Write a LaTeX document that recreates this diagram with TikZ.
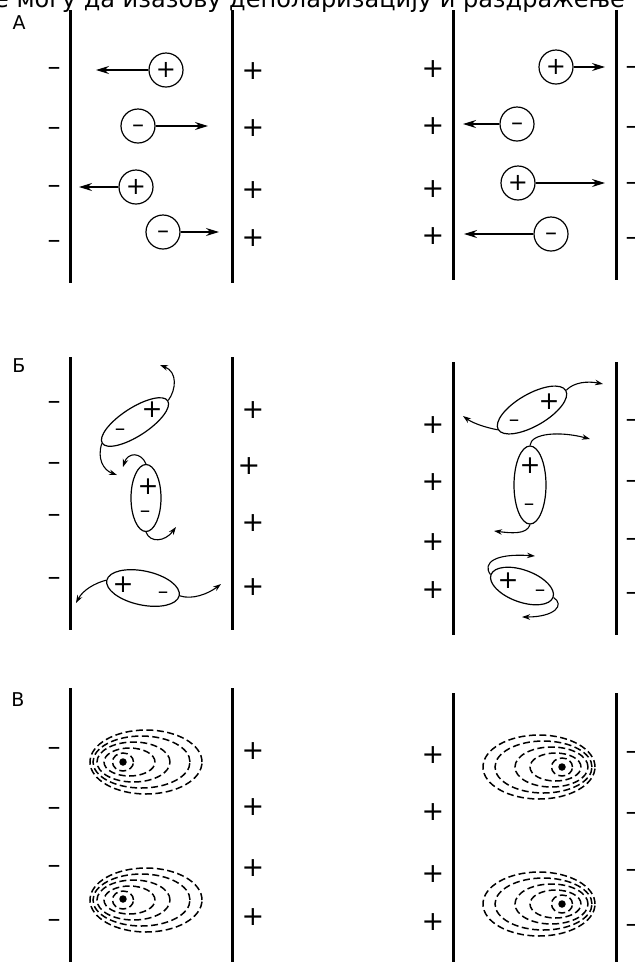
\documentclass[tikz,border=0pt]{standalone}
\usepackage{fontspec}
\setmainfont{DejaVu Sans}
\usetikzlibrary{arrows.meta,shapes.geometric}
\begin{document}
\begin{tikzpicture}[x=1pt,y=-1pt,
  membrane/.style={line width=3pt},
  tag/.style={inner sep=0pt,font=\fontsize{19}{19}\selectfont},
  head/.style={inner sep=0pt,anchor=base west,font=\fontsize{24}{24}\selectfont},
  plussign/.style={inner sep=0pt,font=\fontsize{27}{27}\selectfont},
  minussign/.style={inner sep=0pt,font=\fontsize{26}{26}\selectfont,yshift=-3.5pt},
  ion/.style={circle,draw,line width=1.2pt,minimum size=34pt,inner sep=0pt},
  ipos/.style={font=\fontsize{24}{24}\selectfont},
  ineg/.style={font=\fontsize{24}{24}\selectfont,text height=13.4pt,text depth=0pt},
  drift/.style={line width=1.3pt,-{Stealth[length=13pt,width=8pt]}},
  dipole/.style={ellipse,draw,line width=1.2pt,inner sep=0pt},
  spos/.style={inner sep=0pt,font=\fontsize{25}{25}\selectfont},
  sneg/.style={inner sep=0pt,font=\fontsize{21}{21}\selectfont,yshift=-2.5pt},
  spin/.style={line width=1.1pt,-{Stealth[length=8pt,width=5.5pt]}},
  field/.style={line width=1.5pt,dash pattern=on 7pt off 3.5pt},
  dot/.style={circle,fill,inner sep=0pt,minimum size=7.5pt}
]
\useasboundingbox (0,0) rectangle (635,962);
\clip (0,0) rectangle (635,962);
\fill[white] (0,0) rectangle (635,962);

% running text line above the figure
\node[head] (caption) at (-6,7.5) {е могу да изазову деполаризацију и раздражење};

% ---------- A: free ions drifting in the field ----------
\node[tag] (labA) at (19,23) {А};
\draw[membrane] (70,10) -- (70,283);
\draw[membrane] (232,10) -- (232,283);
\draw[membrane] (453,10) -- (453,280);
\draw[membrane] (616,10) -- (616,280);
\foreach \y [count=\i] in {68,128,186,241} \node[minussign] (aLm\i) at (54,\y) {–};
\foreach \y [count=\i] in {71,128,190,238} \node[plussign] (aLp\i) at (253,\y) {+};
\foreach \y [count=\i] in {69,126,189,236} \node[plussign] (aRp\i) at (433,\y) {+};
\foreach \y [count=\i] in {67,127,183,238} \node[minussign] (aRm\i) at (632,\y) {–};

\node[ion,ipos] (i1) at (166,70) {+};
\node[ion,ineg] (i2) at (138,126) {–};
\node[ion,ipos] (i3) at (136,187) {+};
\node[ion,ineg] (i4) at (163,232) {–};
\coordinate (t1) at (96,70);
\coordinate (t2) at (208,126);
\coordinate (t3) at (79,187);
\coordinate (t4) at (219,232);
\draw[drift] (i1) -- (t1);
\draw[drift] (i2) -- (t2);
\draw[drift] (i3) -- (t3);
\draw[drift] (i4) -- (t4);

\node[ion,ipos] (i5) at (556,67) {+};
\node[ion,ineg] (i6) at (517,124) {–};
\node[ion,ipos] (i7) at (518,183) {+};
\node[ion,ineg] (i8) at (551,234) {–};
\coordinate (t5) at (605,67);
\coordinate (t6) at (463,124);
\coordinate (t7) at (605,183);
\coordinate (t8) at (464,234);
\draw[drift] (i5) -- (t5);
\draw[drift] (i6) -- (t6);
\draw[drift] (i7) -- (t7);
\draw[drift] (i8) -- (t8);

% ---------- Б: rotating dipoles ----------
\node[tag] (labB) at (19,366) {Б};
\draw[membrane] (70,357) -- (70,630);
\draw[membrane] (232,357) -- (232,630);
\draw[membrane] (453,362) -- (453,635);
\draw[membrane] (616,362) -- (616,635);
\foreach \y [count=\i] in {402,463,515,578} \node[minussign] (bLm\i) at (54,\y) {–};
\foreach \y/\x [count=\i] in {410/253,466/249,523/253,587/253} \node[plussign] (bLp\i) at (\x,\y) {+};
\foreach \y [count=\i] in {425,482,542,590} \node[plussign] (bRp\i) at (433,\y) {+};
\foreach \y [count=\i] in {420,481,539,593} \node[minussign] (bRm\i) at (632,\y) {–};

% left column
\node[dipole,minimum width=78pt,minimum height=28pt,rotate=33] (d1) at (135,422) {};
\node[spos] (d1p) at (152,410) {+};
\node[sneg] (d1m) at (120,430) {–};
\coordinate (u1) at (160,365);
\coordinate (u2) at (117,475);
\draw[spin] (d1.east) .. controls (176,390) and (178,372) .. (u1);
\draw[spin] (d1.west) .. controls (97,458) and (103,470) .. (u2);

\node[dipole,minimum width=30pt,minimum height=67pt] (d2) at (146,498) {};
\node[spos] (d2p) at (148,487) {+};
\node[sneg] (d2m) at (145,512) {–};
\coordinate (u3) at (123,467);
\coordinate (u4) at (176,527);
\draw[spin] (d2.north) .. controls (141,452) and (128,452) .. (u3);
\draw[spin] (d2.south) .. controls (150,543) and (165,542) .. (u4);

\node[dipole,minimum width=74pt,minimum height=34pt,rotate=-12] (d3) at (143,588) {};
\node[spos] (d3p) at (123,585) {+};
\node[sneg] (d3m) at (163,593) {–};
\coordinate (u5) at (76,603);
\coordinate (u6) at (221,584);
\draw[spin] (d3.west) .. controls (95,583) and (83,590) .. (u5);
\draw[spin] (d3.east) .. controls (192,600) and (208,594) .. (u6);

% right column
\node[dipole,minimum width=78pt,minimum height=32pt,rotate=30] (d4) at (532,410) {};
\node[spos] (d4p) at (549,402) {+};
\node[sneg] (d4m) at (514,421) {–};
\coordinate (u7) at (463,416);
\coordinate (u8) at (603,384);
\draw[spin] (d4.west) .. controls (488,428) and (474,424) .. (u7);
\draw[spin] (d4.east) .. controls (574,382) and (588,381) .. (u8);

\node[dipole,minimum width=32pt,minimum height=78pt] (d5) at (530,485) {};
\node[spos] (d5p) at (530,466) {+};
\node[sneg] (d5m) at (529,505) {–};
\coordinate (u9) at (590,439);
\coordinate (u10) at (494,531);
\draw[spin] (d5.north) .. controls (531,433) and (560,431) .. (u9);
\draw[spin] (d5.south) .. controls (527,535) and (510,533) .. (u10);

\node[dipole,minimum width=66pt,minimum height=32pt,rotate=-20] (d6) at (522,586) {};
\node[spos] (d6p) at (508,581) {+};
\node[sneg] (d6m) at (540,591) {–};
\coordinate (u11) at (535,556);
\coordinate (u12) at (522,617);
\draw[spin] (d6.west) .. controls (482,563) and (495,553) .. (u11);
\draw[spin] (d6.east) .. controls (565,605) and (555,617) .. (u12);

% ---------- В: polarised atoms ----------
\node[tag] (labC) at (18,700) {В};
\draw[membrane] (70,688) -- (70,970);
\draw[membrane] (232,688) -- (232,970);
\draw[membrane] (453,693) -- (453,970);
\draw[membrane] (616,693) -- (616,970);
\foreach \y [count=\i] in {748,808,866,920} \node[minussign] (cLm\i) at (54,\y) {–};
\foreach \y [count=\i] in {751,807,868,917} \node[plussign] (cLp\i) at (253,\y) {+};
\foreach \y [count=\i] in {755,812,874,922} \node[plussign] (cRp\i) at (433,\y) {+};
\foreach \y [count=\i] in {752,813,870,925} \node[minussign] (cRm\i) at (632,\y) {–};

\node[dot] (n1) at (123,762) {};
\node[dot] (n2) at (123,899) {};
\node[dot] (n3) at (562,767) {};
\node[dot] (n4) at (562,904) {};
\foreach \o/\rx/\ry in {23/56/32,18.5/48.5/26,10.5/36.5/20,6.5/25.5/14,0/10.5/9}{
  \draw[field] (123+\o,762) ellipse [x radius=\rx pt,y radius=\ry pt];
  \draw[field] (123+\o,900) ellipse [x radius=\rx pt,y radius=\ry pt];
  \draw[field] (562-\o,767) ellipse [x radius=\rx pt,y radius=\ry pt];
  \draw[field] (562-\o,904) ellipse [x radius=\rx pt,y radius=\ry pt];
}
\end{tikzpicture}
\end{document}
